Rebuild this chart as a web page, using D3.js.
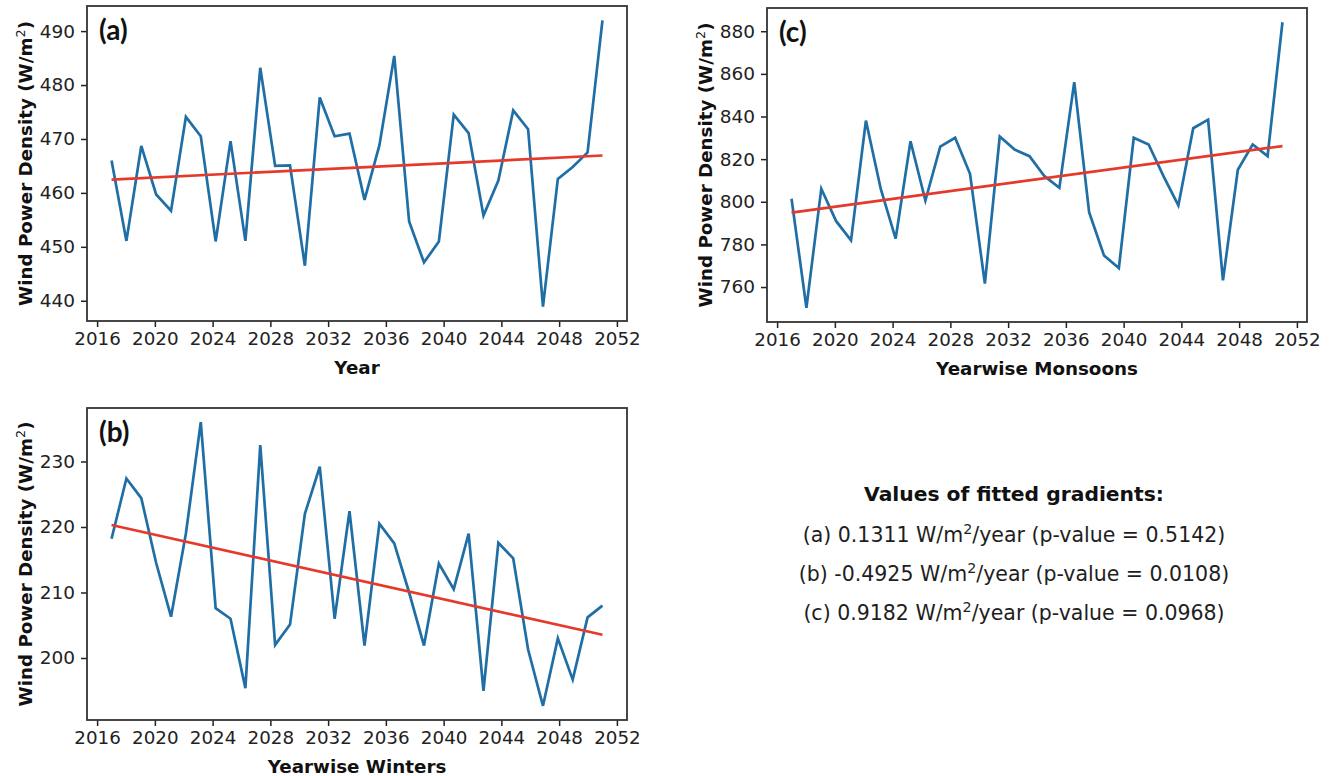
<!DOCTYPE html>
<html>
<head>
<meta charset="utf-8">
<script src="https://cdn.jsdelivr.net/npm/d3@7"></script>
<style>
  html, body { margin: 0; padding: 0; background: #fff; }
  svg { display: block; }
</style>
</head>
<body>
<svg id="chart" width="1333" height="776"></svg>
<script>
// ---------------- DATA ----------------
const years = [2017.00, 2018.03, 2019.06, 2020.09, 2021.12, 2022.15, 2023.18, 2024.21, 2025.24,
  2026.27, 2027.30, 2028.33, 2029.36, 2030.39, 2031.42, 2032.45, 2033.48, 2034.52, 2035.55,
  2036.58, 2037.61, 2038.64, 2039.67, 2040.70, 2041.73, 2042.76, 2043.79, 2044.82, 2045.85,
  2046.88, 2047.91, 2048.94, 2049.97, 2051.00];

const annualWPD = [466.0, 451.1, 468.7, 459.7, 456.7, 474.1, 470.5, 451.0, 469.6, 451.1,
  483.2, 465.0, 465.1, 446.5, 477.7, 470.5, 471.0, 458.7, 468.8, 485.4, 454.7, 447.1,
  451.0, 474.5, 471.1, 455.8, 462.3, 475.3, 471.8, 438.9, 462.6, 464.8, 467.5, 492.0];

const winterWPD = [218.2, 227.4, 224.4, 214.5, 206.3, 219.0, 236.0, 207.6, 206.0, 195.4,
  232.5, 202.0, 205.1, 222.0, 229.2, 206.0, 222.4, 201.9, 220.5, 217.5, 210.0, 201.9,
  214.4, 210.5, 219.0, 195.0, 217.6, 215.2, 201.3, 192.7, 203.0, 196.7, 206.2, 208.0];

const monsoonWPD = [801.4, 750.3, 806.1, 790.9, 781.9, 838.1, 806.0, 782.7, 828.4, 800.6,
  825.9, 830.0, 813.1, 761.6, 830.6, 824.5, 821.4, 812.0, 806.6, 856.1, 795.1, 774.8,
  768.9, 830.0, 826.9, 812.0, 798.3, 834.5, 838.5, 763.1, 815.0, 826.9, 821.4, 884.2];

const panelTags = ["(a)", "(b)", "(c)"];
const gradients = [0.1311, -0.4925, 0.9182];
const pValues = [0.5142, 0.0108, 0.0968];

const xTicks = [2016, 2020, 2024, 2028, 2032, 2036, 2040, 2044, 2048, 2052];
const yTicksA = [440, 450, 460, 470, 480, 490];
const yTicksB = [200, 210, 220, 230];
const yTicksC = [760, 780, 800, 820, 840, 860, 880];

const xLabels = ["Year", "Yearwise Winters", "Yearwise Monsoons"];
const yLabelMain = "Wind Power Density (W/m";
const boxTitle = "Values of fitted gradients:";

// ---------------- LAYOUT ----------------
const BLUE = "#1f6ea6";
const RED = "#e5392b";
const INK = "#222";

const panels = [
  { tag: panelTags[0], values: annualWPD, yTicks: yTicksA, xlabel: xLabels[0], slope: gradients[0],
    left: 87, top: 6, right: 627, bottom: 321 },
  { tag: panelTags[1], values: winterWPD, yTicks: yTicksB, xlabel: xLabels[1], slope: gradients[1],
    left: 87, top: 408, right: 627, bottom: 720 },
  { tag: panelTags[2], values: monsoonWPD, yTicks: yTicksC, xlabel: xLabels[2], slope: gradients[2],
    left: 767, top: 8, right: 1307, bottom: 322 }
];

const svg = d3.select("#chart");

function padDomain(lo, hi) {
  const m = (hi - lo) * 0.05;
  return [lo - m, hi + m];
}

panels.forEach(p => {
  const g = svg.append("g");
  const xDom = padDomain(d3.min(years), d3.max(years));
  const yDom = padDomain(d3.min(p.values), d3.max(p.values));
  const x = d3.scaleLinear().domain(xDom).range([p.left, p.right]);
  const y = d3.scaleLinear().domain(yDom).range([p.bottom, p.top]);

  // fitted line: given slope, through the mean point
  const mx = d3.mean(years), my = d3.mean(p.values);
  const fit = t => my + p.slope * (t - mx);
  const x0 = d3.min(years), x1 = d3.max(years);

  const line = d3.line().x((d, i) => x(years[i])).y(d => y(d));
  g.append("path").datum(p.values)
    .attr("d", line)
    .attr("fill", "none")
    .attr("stroke", BLUE)
    .attr("stroke-width", 2.7)
    .attr("stroke-linejoin", "miter");

  g.append("path").datum([x0, x1])
    .attr("d", d3.line().x(d => x(d)).y(d => y(fit(d))))
    .attr("fill", "none")
    .attr("stroke", RED)
    .attr("stroke-width", 2.7);

  // axes
  const xAxis = d3.axisBottom(x).tickValues(xTicks).tickFormat(d3.format("d"))
    .tickSize(6).tickPadding(5);
  const gx = g.append("g").attr("transform", `translate(0,${p.bottom})`).call(xAxis);
  gx.select(".domain").remove();
  gx.selectAll("line").attr("stroke", INK).attr("stroke-width", 1.5);
  gx.selectAll("text").attr("fill", INK)
    .style("font-family", "'DejaVu Sans', sans-serif").style("font-size", "18.3px");

  const yAxis = d3.axisLeft(y).tickValues(p.yTicks).tickFormat(d3.format("d"))
    .tickSize(6).tickPadding(6);
  const gy = g.append("g").attr("transform", `translate(${p.left},0)`).call(yAxis);
  gy.select(".domain").remove();
  gy.selectAll("line").attr("stroke", INK).attr("stroke-width", 1.5);
  gy.selectAll("text").attr("fill", INK)
    .style("font-family", "'DejaVu Sans', sans-serif").style("font-size", "18.5px");

  // frame
  g.append("rect")
    .attr("x", p.left).attr("y", p.top)
    .attr("width", p.right - p.left).attr("height", p.bottom - p.top)
    .attr("fill", "none").attr("stroke", "#333").attr("stroke-width", 1.8);

  // panel tag
  g.append("text")
    .attr("x", p.left + 12).attr("y", p.top + 34)
    .attr("fill", "#111")
    .style("font-family", "Lato, 'Open Sans', sans-serif")
    .style("font-weight", "bold").style("font-size", "28px")
    .text(p.tag);

  // x label
  g.append("text")
    .attr("x", (p.left + p.right) / 2).attr("y", p.bottom + 52.5)
    .attr("text-anchor", "middle").attr("fill", "#111")
    .style("font-family", "'DejaVu Sans', sans-serif")
    .style("font-weight", "bold").style("font-size", "18.3px")
    .text(p.xlabel);

  // y label
  const cy = (p.top + p.bottom) / 2;
  const yl = g.append("text")
    .attr("transform", `translate(${p.left - 55.5},${cy}) rotate(-90)`)
    .attr("text-anchor", "middle").attr("fill", "#111")
    .style("font-family", "'DejaVu Sans', sans-serif")
    .style("font-weight", "bold").style("font-size", "18.3px");
  yl.append("tspan").text(yLabelMain);
  yl.append("tspan").attr("dy", -7).style("font-size", "12.8px").style("font-weight", "normal").text("2");
  yl.append("tspan").attr("dy", 7).text(")");
});

// ---------------- TEXT BOX ----------------
const boxX = 1014;
svg.append("text")
  .attr("x", boxX).attr("y", 501)
  .attr("text-anchor", "middle").attr("fill", "#111")
  .style("font-family", "'DejaVu Sans', sans-serif")
  .style("font-weight", "bold").style("font-size", "20.3px")
  .text(boxTitle);

const lineOrder = [0, 1, 2];
const lineY = [541.5, 580.5, 620];
lineOrder.forEach((k, i) => {
  const t = svg.append("text")
    .attr("x", boxX).attr("y", lineY[i])
    .attr("text-anchor", "middle").attr("fill", "#1e1e1e")
    .style("font-family", "'DejaVu Sans', sans-serif")
    .style("font-size", "20.5px");
  t.append("tspan").text(`${panelTags[k]} ${gradients[k].toFixed(4)} W/m`);
  t.append("tspan").attr("dy", -8).style("font-size", "14.3px").text("2");
  t.append("tspan").attr("dy", 8).text(`/year (p-value = ${pValues[k].toFixed(4)})`);
});
</script>
</body>
</html>
